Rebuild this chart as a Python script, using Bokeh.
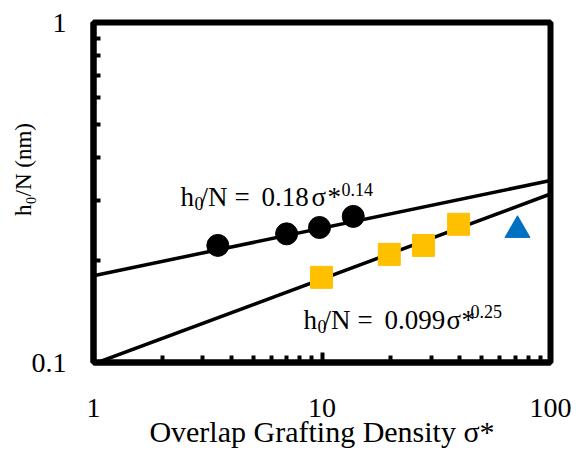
from bokeh.plotting import figure
from bokeh.models import Label, FixedTicker, CustomJSTickFormatter
from bokeh.embed import file_html
from bokeh.resources import INLINE

# ---- data ----
circ_x = [3.5, 7.0, 9.75, 13.7]
circ_y = [0.221, 0.239, 0.2495, 0.269]
sq_x = [9.95, 19.7, 27.8, 39.6]
sq_y = [0.178, 0.208, 0.221, 0.255]
tri_x = [71.7]
tri_y = [0.245]
fit1_x = [1, 100]
fit1_y = [0.18, 0.343]
fit2_x = [1, 100]
fit2_y = [0.099, 0.313]
x_major = [1, 10, 100]
x_minor = [2, 3, 4, 5, 6, 7, 8, 9, 20, 30, 40, 50, 60, 70, 80, 90]
y_major = [0.1, 1]
y_minor = [0.2, 0.3, 0.4, 0.5, 0.6, 0.7, 0.8, 0.9]
x_title = "Overlap Grafting Density σ*"
y_title = "h₀/N (nm)"

FONT = "Liberation Serif"

p = figure(width=576, height=450, x_axis_type="log", y_axis_type="log",
           x_range=(1, 100), y_range=(0.1, 1),
           output_backend="svg", toolbar_location=None,
           min_border_left=93, min_border_right=26, min_border_top=22, min_border_bottom=88)
p.xgrid.visible = False
p.ygrid.visible = False
p.outline_line_color = "black"
p.outline_line_width = 6
p.outline_line_alpha = 1.0
p.background_fill_color = "white"
p.border_fill_color = "white"

fmt = CustomJSTickFormatter(code="return String(tick);")
for ax, maj, mnr, standoff in ((p.xaxis[0], x_major, x_minor, 36), (p.yaxis[0], y_major, y_minor, 27)):
    ax.ticker = FixedTicker(ticks=maj, minor_ticks=mnr)
    ax.formatter = fmt
    ax.axis_line_color = "black"
    ax.axis_line_width = 6
    ax.major_tick_in = 10
    ax.major_tick_out = 0
    ax.minor_tick_in = 7
    ax.minor_tick_out = 0
    ax.major_tick_line_width = 4
    ax.minor_tick_line_width = 4
    ax.major_tick_line_color = "black"
    ax.minor_tick_line_color = "black"
    ax.major_label_text_font = FONT
    ax.major_label_text_font_size = "28px"
    ax.major_label_text_color = "black"
    ax.major_label_standoff = standoff
    ax.axis_label_text_font = FONT
    ax.axis_label_text_font_style = "normal"
    ax.axis_label_text_color = "black"

p.xaxis[0].axis_label = x_title
p.xaxis[0].axis_label_text_font_size = "30px"
p.xaxis[0].axis_label_standoff = -5

p.yaxis[0].axis_label = "\u00a0" * 8 + y_title
p.yaxis[0].axis_label_text_font_size = "23px"
p.yaxis[0].axis_label_standoff = -7

# fit lines
p.line(fit1_x, fit1_y, line_color="black", line_width=3.5)
p.line(fit2_x, fit2_y, line_color="black", line_width=3.5)

# data markers
p.scatter(circ_x, circ_y, marker="circle", size=22, fill_color="black", line_color="black")
p.scatter(sq_x, sq_y, marker="square", size=22, fill_color="#FFC000", line_color="#FFC000")
p.scatter(tri_x, tri_y, marker="triangle", size=25, fill_color="#0070C0", line_color="#0070C0")


def rich(x, y, pieces):
    for text, dx, dy, size in pieces:
        p.add_layout(Label(x=x, y=y, x_offset=dx, y_offset=dy, text=text,
                           text_font=FONT, text_font_size=f"{size}px", text_color="black",
                           text_align="left", text_baseline="alphabetic"))


rich(2.403, 0.3063, [("h", 0, 0, 27), ("0", 14, -6.5, 18), ("/N", 20, 0, 27),
                      ("=", 54, 0, 27), ("0.18", 81, 0, 27), ("σ", 131, 0, 27),
                      ("*", 147, 0, 27), ("0.14", 161, 8, 18)])
rich(8.30, 0.1338, [("h", 0, 0, 27), ("0", 14, -6.5, 18), ("/N", 20, 0, 27),
                     ("=", 54, 0, 27), ("0.099", 81, 0, 27), ("σ", 143, 0, 27),
                     ("*", 158, 0, 27), ("0.25", 167, 8, 18)])

open("out.html", "w").write(file_html(p, INLINE))
